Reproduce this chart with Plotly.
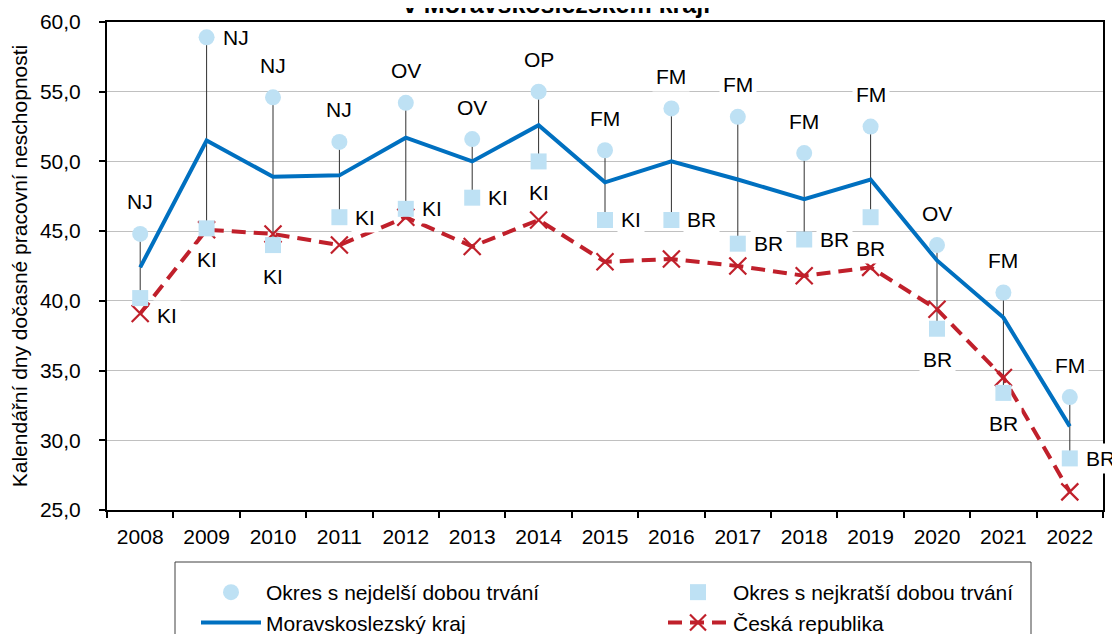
import plotly.graph_objects as go

# ---------------- data ----------------
years = [2008, 2009, 2010, 2011, 2012, 2013, 2014, 2015,
         2016, 2017, 2018, 2019, 2020, 2021, 2022]
max_vals = [44.8, 58.9, 54.6, 51.4, 54.2, 51.6, 55.0, 50.8, 53.8, 53.2, 50.6, 52.5, 44.0, 40.6, 33.1]
max_okres = ['NJ', 'NJ', 'NJ', 'NJ', 'OV', 'OV', 'OP', 'FM', 'FM', 'FM', 'FM', 'FM', 'OV', 'FM', 'FM']
min_vals = [40.2, 45.2, 44.0, 46.0, 46.6, 47.4, 50.0, 45.8, 45.8, 44.1, 44.4, 46.0, 38.0, 33.4, 28.7]
min_okres = ['KI', 'KI', 'KI', 'KI', 'KI', 'KI', 'KI', 'KI', 'BR', 'BR', 'BR', 'BR', 'BR', 'BR', 'BR']
msk_vals = [42.4, 51.5, 48.9, 49.0, 51.7, 50.0, 52.6, 48.5, 50.0, 48.7, 47.3, 48.7, 42.9, 38.8, 31.0]
cr_vals = [39.1, 45.1, 44.8, 44.0, 46.0, 43.9, 45.8, 42.8, 43.0, 42.5, 41.8, 42.4, 39.4, 34.5, 26.3]

names = ['Okres s nejdelší dobou trvání', 'Okres s nejkratší dobou trvání',
         'Moravskoslezský kraj', 'Česká republika']
title_text = 'v Moravskoslezském kraji'
y_title = 'Kalendářní dny dočasné pracovní neschopnosti'

# ---------------- style ----------------
FONT = 'Liberation Sans, Arial, sans-serif'
FS = 21
LIGHT = '#BEE1F4'
BLUE = '#0070C0'
RED = '#C0202B'

max_pos = ['above', 'right', 'above', 'above', 'above', 'above', 'above', 'above',
           'above', 'above', 'above', 'above', 'above', 'above', 'above']
min_pos = ['rightlow', 'below', 'below', 'right', 'right', 'right', 'below', 'right',
           'right', 'right', 'right', 'below', 'below', 'below', 'right']
pos_style = {
    'above': dict(xanchor='center', yanchor='middle', xshift=0, yshift=32),
    'below': dict(xanchor='center', yanchor='middle', xshift=0, yshift=-31),
    'right': dict(xanchor='left', yanchor='middle', xshift=12, yshift=0),
    'rightlow': dict(xanchor='left', yanchor='middle', xshift=13, yshift=-17),
}

fig = go.Figure()

# high-low connector lines (one small trace per year)
for yr, a, b in zip(years, max_vals, min_vals):
    fig.add_trace(go.Scatter(x=[yr, yr], y=[a, b], mode='lines',
                             line=dict(color='#303030', width=1),
                             showlegend=False, hoverinfo='skip'))

fig.add_trace(go.Scatter(x=years, y=cr_vals, mode='lines+markers', name=names[3], legendrank=4,
                         line=dict(color=RED, width=4, dash='14px,8px'),
                         marker=dict(symbol='x-thin', size=17, color=RED,
                                     line=dict(color=RED, width=2.2))))
fig.add_trace(go.Scatter(x=years, y=msk_vals, mode='lines', name=names[2], legendrank=3,
                         line=dict(color=BLUE, width=4)))
fig.add_trace(go.Scatter(x=years, y=max_vals, mode='markers', name=names[0], legendrank=1,
                         marker=dict(symbol='circle', size=16, color=LIGHT)))
fig.add_trace(go.Scatter(x=years, y=min_vals, mode='markers', name=names[1], legendrank=2,
                         marker=dict(symbol='square', size=16, color=LIGHT)))

annotations = []
for labels, vals, poss in ((max_okres, max_vals, max_pos), (min_okres, min_vals, min_pos)):
    for yr, v, lab, p in zip(years, vals, labels, poss):
        st = pos_style[p]
        annotations.append(dict(x=yr, y=v, xref='x', yref='y', text=lab, showarrow=False,
                                font=dict(family=FONT, size=FS, color='black'),
                                bgcolor='white', borderpad=3, **st))

# title (top of it is cut off by the picture edge, as in the reference)
annotations.append(dict(x=(556 - 107) / 996, y=1 + 18 / 488, xref='paper', yref='paper',
                        text='<b>' + title_text + '</b>', showarrow=False,
                        xanchor='center', yanchor='middle',
                        font=dict(family=FONT, size=25, color='black')))

W, H = 1104, 626   # page body adds an 8px offset

fig.update_layout(
    width=W, height=H,
    margin=dict(l=99, r=9, t=14, b=124, autoexpand=False),
    paper_bgcolor='white', plot_bgcolor='white',
    font=dict(family=FONT, size=FS, color='black'),
    separators=', ',
    showlegend=True,
    legend=dict(orientation='h', xref='container', yref='container',
                x=188 / W, xanchor='left', y=1 - 564 / H, yanchor='top',
                entrywidth=392, entrywidthmode='pixels', itemwidth=60,
                font=dict(family=FONT, size=FS, color='black'),
                bgcolor='rgba(0,0,0,0)', borderwidth=0,
                traceorder='normal'),
    annotations=annotations,
    shapes=[dict(type='rect', xref='paper', yref='paper',
                 x0=(175 - 107) / 996, x1=(1031 - 107) / 996,
                 y0=(510 - 562) / 488, y1=(510 - 680) / 488,
                 line=dict(color='#404040', width=1), fillcolor='rgba(0,0,0,0)', layer='below')],
)

fig.update_xaxes(range=[2007.5, 2022.5], tickmode='array', tickvals=years,
                 ticktext=[str(y) for y in years], tickangle=0,
                 showline=True, linecolor='black', linewidth=2, mirror=True,
                 ticks='', showgrid=False, zeroline=False, ticklabelstandoff=7,
                 automargin=False,
                 minor=dict(tick0=2007.5, dtick=1, ticks='outside', ticklen=6,
                            tickwidth=1.5, tickcolor='black', showgrid=False),
                 tickfont=dict(family=FONT, size=FS, color='black'))
fig.update_yaxes(range=[25, 60], dtick=5, tick0=25, tickformat='.1f',
                 showline=True, linecolor='black', linewidth=2, mirror=True,
                 ticks='outside', ticklen=6, tickwidth=1.5, tickcolor='black',
                 showgrid=True, gridcolor='#C0C0C0', gridwidth=1, zeroline=False,
                 ticklabelstandoff=14, automargin=False,
                 tickfont=dict(family=FONT, size=FS, color='black'),
                 title=dict(text=y_title, font=dict(family=FONT, size=FS, color='black'), standoff=10))

fig.write_html('out.html')
